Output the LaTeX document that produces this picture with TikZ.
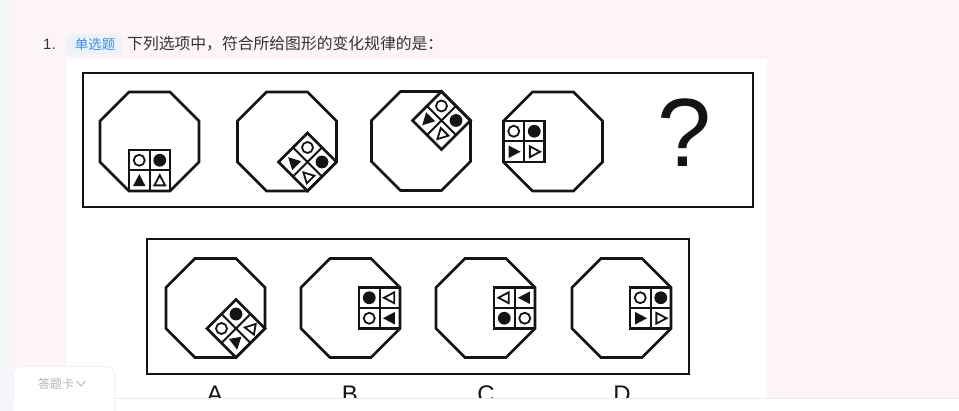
\documentclass[tikz,border=0pt]{standalone}
\usepackage{fontspec}
\setmainfont{Liberation Sans}
\newfontfamily\cjk{Noto Sans CJK SC}
\definecolor{pinkbg}{RGB}{253,244,245}
\definecolor{leftbg}{RGB}{245,246,250}
\definecolor{tagbg}{RGB}{236,242,250}
\definecolor{tagtx}{RGB}{64,140,230}
\definecolor{qtx}{RGB}{51,51,51}
\definecolor{tabtx}{RGB}{176,180,188}
\definecolor{ink}{RGB}{20,20,20}
\tikzset{
  octline/.style={draw=ink, line width=2.6pt, line join=miter},
  frameline/.style={draw=ink, line width=2.8pt},
  gridouter/.style={draw=ink, line width=2.5pt},
  gridinner/.style={draw=ink, line width=2pt},
  hollow/.style={draw=ink, line width=1.8pt, fill=white},
  solid/.style={fill=ink},
}
% octagon centred at (#1,#2)
\newcommand\octo[2]{%
  \draw[octline, shift={(#1,#2)}] (20.5,-49.5) -- (49.5,-20.5) -- (49.5,20.5) -- (20.5,49.5)
    -- (-20.5,49.5) -- (-49.5,20.5) -- (-49.5,-20.5) -- (-20.5,-49.5) -- cycle;}
% 2x2 grid centred at (#1,#2), rotated #3
\newcommand\gridbox[3]{%
  \begin{scope}[shift={(#1,#2)}, rotate=#3]
    \draw[gridouter] (-20.5,-20.5) rectangle (20.5,20.5);
    \draw[gridinner] (0,-20.5) -- (0,20.5) (-20.5,0) -- (20.5,0);
  \end{scope}}
\newcommand\ocirc[2]{\draw[hollow] (#1,#2) circle (5.5);}
\newcommand\fcirc[2]{\fill[solid] (#1,#2) circle (6.4);}
\newcommand\ftri[3]{\fill[solid, shift={(#1,#2)}, rotate=#3] (6.8,0) -- (-5.2,6.3) -- (-5.2,-6.3) -- cycle;}
\newcommand\htri[3]{\draw[hollow, line join=miter, shift={(#1,#2)}, rotate=#3] (5.8,0) -- (-4.4,5.4) -- (-4.4,-5.4) -- cycle;}
\begin{document}
\begin{tikzpicture}[x=1pt,y=-1pt]
\useasboundingbox (0,0) rectangle (959,411);
% backgrounds
\fill[pinkbg] (0,0) rectangle (959,411);
\fill[leftbg] (0,0) rectangle (12,411);
\fill[white] (67,59) rectangle (767,399);
% header
\node[anchor=west, text=qtx, font=\fontsize{15}{18}\selectfont, inner sep=0] (num) at (43,44) {1.};
\fill[tagbg, rounded corners=2pt] (67,34) rectangle (122,55);
\node[text=tagtx, font=\cjk\fontsize{13.5}{16}\selectfont, inner sep=0] (tag) at (95,44) {单选题};
\node[anchor=west, text=qtx, font=\cjk\fontsize{15.8}{18}\selectfont, inner sep=0] (q) at (127,44) {下列选项中，符合所给图形的变化规律的是：};
% frames
\draw[frameline] (83,73) rectangle (753,207);
\draw[frameline] (147,239) rectangle (689,374);
% ---- top row ----
\octo{149.5}{141.5}
\gridbox{149.5}{170.5}{0}
\ocirc{139.25}{160.25} \fcirc{159.75}{160.25}
\ftri{139.25}{181}{90} \htri{159.75}{181}{90}

\octo{287}{141.5}
\gridbox{307.5}{162}{45}
\ocirc{307.5}{147.5} \fcirc{322}{162}
\ftri{293}{162}{135} \htri{307.5}{176.5}{135}

\octo{421}{141}
\gridbox{441.5}{120.5}{45}
\ocirc{441.5}{106} \fcirc{456}{120.5}
\ftri{427}{120.5}{-135} \htri{441.5}{135}{-135}

\octo{553}{141.5}
\gridbox{524}{141.5}{0}
\ocirc{513.75}{131.25} \fcirc{534.25}{131.25}
\ftri{513.75}{151.75}{0} \htri{534.25}{151.75}{0}

\node[font=\fontsize{97}{100}\selectfont, text=ink, inner sep=0] (qm) at (684,133) {?};
% ---- options ----
\octo{215.5}{308}
\gridbox{236}{328.5}{45}
\fcirc{236}{314} \ocirc{221.5}{328.5}
\htri{250.5}{328.5}{170} \ftri{236}{343}{-80}

\octo{350.5}{308}
\gridbox{379.5}{308}{0}
\fcirc{369.25}{297.75} \htri{389.75}{297.75}{180}
\ocirc{369.25}{318.25} \ftri{389.75}{318.25}{180}

\octo{485.5}{308}
\gridbox{514.5}{308}{0}
\htri{504.25}{297.75}{180} \ftri{524.75}{297.75}{180}
\fcirc{504.25}{318.25} \ocirc{524.75}{318.25}

\octo{621.5}{308}
\gridbox{650.5}{308}{0}
\ocirc{640.25}{297.75} \fcirc{660.75}{297.75}
\ftri{640.25}{318.25}{0} \htri{660.75}{318.25}{0}
% labels
\node[anchor=base, font=\fontsize{24}{28}\selectfont, text=ink, inner sep=0] (la) at (215,403) {A};
\node[anchor=base, font=\fontsize{24}{28}\selectfont, text=ink, inner sep=0] (lb) at (350,403) {B};
\node[anchor=base, font=\fontsize{24}{28}\selectfont, text=ink, inner sep=0] (lc) at (486,403) {C};
\node[anchor=base, font=\fontsize{24}{28}\selectfont, text=ink, inner sep=0] (ld) at (622,403) {D};
% bottom bar and tab
\fill[white] (12,399) rectangle (959,411);
\draw[black!8, line width=0.8pt] (114,398.6) -- (959,398.6);
\fill[black!5, rounded corners=8pt] (13,366) rectangle (115,420);
\fill[white, rounded corners=8pt] (14,367) rectangle (114,420);
\node[anchor=west, text=tabtx, font=\cjk\fontsize{12}{14}\selectfont, inner sep=0] (tab) at (38,384) {答题卡};
\draw[tabtx, line width=0.9pt] (76.5,381) -- (81,386) -- (85.5,381);
\end{tikzpicture}
\end{document}
